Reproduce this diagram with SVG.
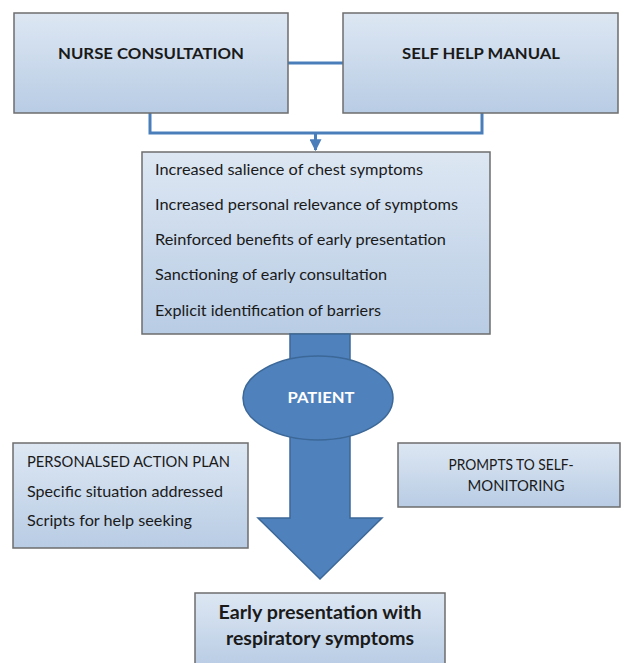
<svg xmlns="http://www.w3.org/2000/svg" width="622" height="663" viewBox="0 0 622 663">
<defs>
<linearGradient id="boxg" x1="0" y1="0" x2="0" y2="1">
<stop offset="0" stop-color="#dde7f3"/>
<stop offset="1" stop-color="#b8cce4"/>
</linearGradient>
<marker id="ah" viewBox="0 0 10 10" refX="9" refY="5" markerWidth="4" markerHeight="4" orient="auto">
<path d="M0,0 L10,5 L0,10 z" fill="#4a7ebb"/>
</marker>
</defs>
<style>
.box{fill:url(#boxg);stroke:#6d6d6d;stroke-width:1.5}
.blue{fill:#4f81bd;stroke:#3c6898;stroke-width:1.5}
.t{font-family:Lato,"Liberation Sans",sans-serif;fill:#1a1a1a}
.s16{font-size:16px}
.s15{font-size:15px}
.s17{font-size:17px}
.s19{font-size:19px}
.b{font-weight:bold}
.c{text-anchor:middle}
.w{fill:#ffffff}
.con{fill:none;stroke:#4a7ebb;stroke-width:3}
</style>
<rect width="622" height="663" fill="#ffffff"/>
<g id="connectors">
<line class="con" x1="288" y1="63" x2="343" y2="63"/>
<polyline class="con" points="150,113 150,133 482,133 482,113"/>
<line class="con" x1="315.5" y1="133" x2="315.5" y2="150" marker-end="url(#ah)"/>
</g>
<g id="nurse">
<rect class="box" x="14" y="13" width="274" height="100"/>
<text class="t b c s16" x="151" y="59" textLength="186" lengthAdjust="spacingAndGlyphs">NURSE CONSULTATION</text>
</g>
<g id="selfhelp">
<rect class="box" x="343" y="13" width="275" height="100"/>
<text class="t b c s16" x="481" y="59" textLength="158" lengthAdjust="spacingAndGlyphs">SELF HELP MANUAL</text>
</g>
<g id="mechanisms">
<rect class="box" x="142" y="152" width="348" height="182"/>
<text class="t s16" x="155" y="175" textLength="268" lengthAdjust="spacingAndGlyphs">Increased salience of chest symptoms</text>
<text class="t s16" x="155" y="210" textLength="303" lengthAdjust="spacingAndGlyphs">Increased personal relevance of symptoms</text>
<text class="t s16" x="155" y="245" textLength="291" lengthAdjust="spacingAndGlyphs">Reinforced benefits of early presentation</text>
<text class="t s16" x="155" y="280" textLength="232" lengthAdjust="spacingAndGlyphs">Sanctioning of early consultation</text>
<text class="t s16" x="155" y="316" textLength="226" lengthAdjust="spacingAndGlyphs">Explicit identification of barriers</text>
</g>
<g id="arrow">
<path class="blue" d="M290,334 L350,334 L350,518 L382,518 L320,579 L258,518 L290,518 Z"/>
</g>
<g id="patient">
<ellipse class="blue" cx="318" cy="398" rx="75" ry="42"/>
<text class="t b c s16 w" x="321" y="403" textLength="67" lengthAdjust="spacingAndGlyphs">PATIENT</text>
</g>
<g id="actionplan">
<rect class="box" x="13" y="443" width="235" height="105"/>
<text class="t s15" x="27" y="467" textLength="203" lengthAdjust="spacingAndGlyphs">PERSONALSED ACTION PLAN</text>
<text class="t s16" x="27" y="497" textLength="196" lengthAdjust="spacingAndGlyphs">Specific situation addressed</text>
<text class="t s16" x="27" y="526" textLength="165" lengthAdjust="spacingAndGlyphs">Scripts for help seeking</text>
</g>
<g id="prompts">
<rect class="box" x="398" y="443" width="222" height="64"/>
<text class="t c s15" x="511" y="470" textLength="125" lengthAdjust="spacingAndGlyphs">PROMPTS TO SELF-</text>
<text class="t c s15" x="516" y="491" textLength="97" lengthAdjust="spacingAndGlyphs">MONITORING</text>
</g>
<g id="outcome">
<rect class="box" x="195" y="593" width="250" height="74"/>
<text class="t b c s19" x="320" y="619" textLength="203" lengthAdjust="spacingAndGlyphs">Early presentation with</text>
<text class="t b c s19" x="320" y="645" textLength="188" lengthAdjust="spacingAndGlyphs">respiratory symptoms</text>
</g>
</svg>
